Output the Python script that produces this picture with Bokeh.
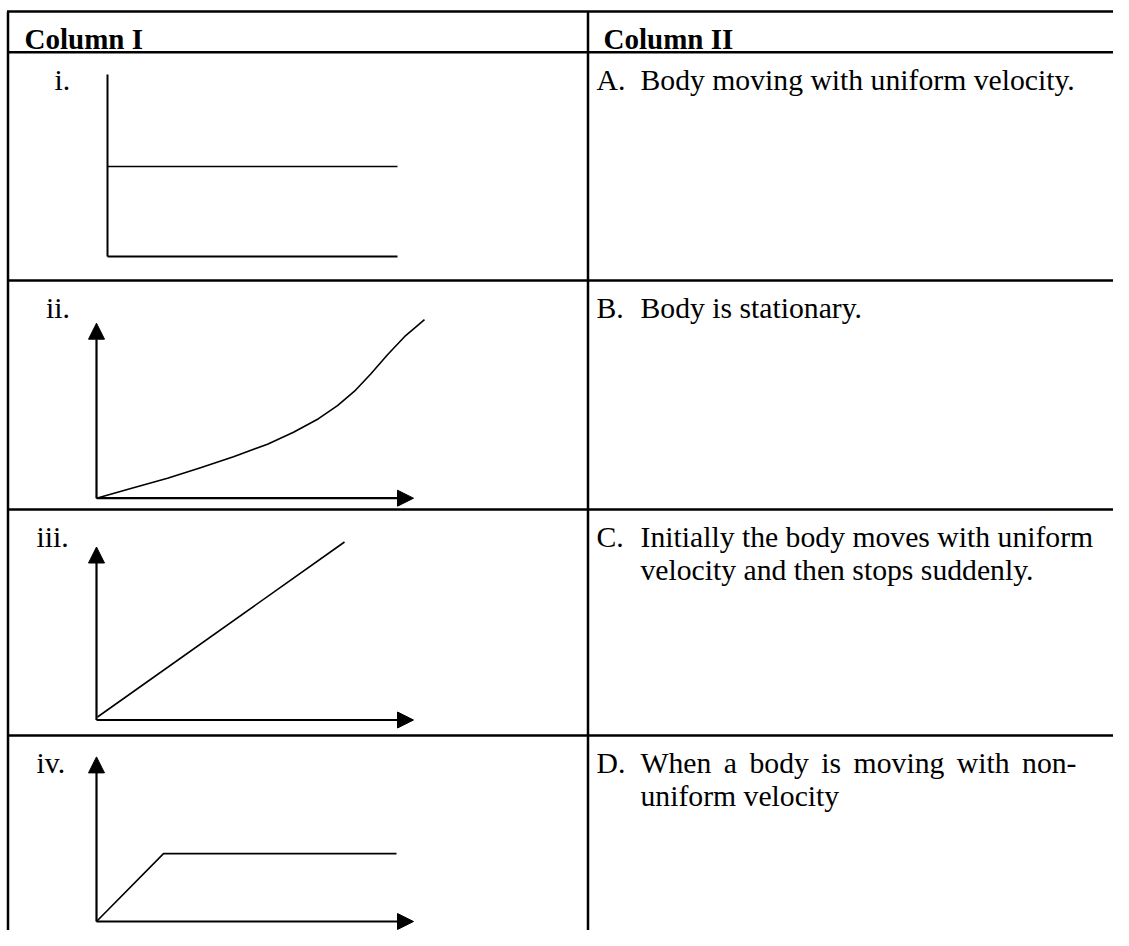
from bokeh.plotting import figure
from bokeh.models import Range1d, Arrow, NormalHead
from bokeh.core.properties import value
from bokeh.embed import file_html
from bokeh.resources import INLINE

# ---------------- content ----------------
headers = ["Column I", "Column II"]
row_labels = ["i.", "ii.", "iii.", "iv."]
match_letters = ["A.", "B.", "C.", "D."]
match_lines = [
    ["Body moving with uniform velocity."],
    ["Body is stationary."],
    ["Initially the body moves with uniform", "velocity and then stops suddenly."],
    ["When a body is moving with non-", "uniform velocity"],
]
justified = [[False], [False], [True, False], [True, False]]

# ---------------- graph data (local units: right = time, up = quantity) ----------------
# graph i : two horizontal lines
g1_flat_t = [0, 290]
g1_flat_y = [90, 90]
g1_base_t = [0, 290]
g1_base_y = [0, 0]
g1_vert_t = [0, 0]
g1_vert_y = [0, 182]
# graph ii : curve bending upward
g2_t = [0, 37, 71, 104, 137, 171, 197, 222, 241, 258, 274, 291, 308, 328]
g2_y = [0, 10.4, 20, 30.4, 41.5, 54, 66, 79.5, 92.5, 107, 124, 143.5, 161.5, 178.5]
# graph iii : straight line
g3_t = [1, 248]
g3_y = [3, 178]
# graph iv : rise then flat
g4_t = [0, 67, 300]
g4_y = [0, 73, 73]
# arrowed axes lengths (x, y) for graphs ii-iv
axis_len_x = [317, 317, 317]
axis_len_y = [175, 173, 177]

# ---------------- layout ----------------
W, H = 1113, 930
FONT = "Liberation Serif"
FS = 29.7
FS_HEAD = 29
row_tops = [51.7, 280, 509, 735]
row_bottom_end = 946
left_x = 7.5
div_x = 587.5
right_x = 1130
top_y = 11
label_x = [54, 45.5, 36, 36]
letter_x = 596
text_x = 640
text_right = 1076
line_gap = 32.5
base_off = 27.6
# panel origins and vertical squeeze (last panel squeezed to stay inside the canvas)
origins = [(107, 256), (96, 497.7), (96, 719.5), (96, 921)]
yscale = [1.0, 1.0, 1.0, 0.93]

p = figure(width=W, height=H, x_range=Range1d(0, W), y_range=Range1d(H, 0),
           output_backend="svg", toolbar_location=None, min_border=0,
           x_axis_location=None, y_axis_location=None)
p.grid.visible = False
p.outline_line_color = None
p.background_fill_color = "white"
p.border_fill_color = "white"

# table rules
hy = [top_y] + row_tops
p.segment(x0=[left_x - 1] * len(hy), y0=hy, x1=[right_x] * len(hy), y1=hy,
          line_color="black", line_width=2.5)
p.segment(x0=[left_x, div_x], y0=[top_y, top_y], x1=[left_x, div_x], y1=[row_bottom_end] * 2,
          line_color="black", line_width=2.5)

txt = dict(text_font=value(FONT), text_color="black",
           text_baseline="alphabetic", text_align="left")

# headers
p.text(x=[24, 603], y=[38.5, 38.5], text=headers, text_font_style="bold",
       text_font_size=f"{FS_HEAD}px", **txt)

# row labels + letters
bases = [t + base_off for t in row_tops]
p.text(x=label_x, y=bases, text=row_labels, text_font_size=f"{FS}px", **txt)
p.text(x=[letter_x] * 4, y=bases, text=match_letters, text_font_size=f"{FS}px", **txt)

# Times metrics (per 1000 em) for justification
adv = {' ': 250, '-': 333, '.': 250, 'a': 444, 'b': 500, 'c': 444, 'd': 500, 'e': 444,
       'f': 333, 'g': 500, 'h': 500, 'i': 278, 'l': 278, 'm': 778, 'n': 500, 'o': 500,
       'p': 500, 'r': 333, 's': 389, 't': 278, 'u': 500, 'v': 500, 'w': 722, 'y': 500,
       'I': 333, 'W': 944, 'B': 667}


def width(s):
    return sum(adv.get(c, 500) for c in s) * FS / 1000.0


min_gap = 0.25 * FS
wx, wy, wt = [], [], []
for r, lines in enumerate(match_lines):
    for k, line in enumerate(lines):
        y = bases[r] + k * line_gap
        words = line.split(" ")
        total = sum(width(w) for w in words)
        gap = (text_right - text_x - total) / (len(words) - 1) if len(words) > 1 else 0
        if justified[r][k] and gap > min_gap:
            x = text_x
            for w in words:
                wx.append(x); wy.append(y); wt.append(w)
                x += width(w) + gap
        else:
            wx.append(text_x); wy.append(y); wt.append(line)
p.text(x=wx, y=wy, text=wt, text_font_size=f"{FS}px", **txt)


def place(i, ts, ys):
    o = origins[i]
    return [o[0] + t for t in ts], [o[1] - v * yscale[i] for v in ys]


# graph i
for ts, ys in [(g1_vert_t, g1_vert_y), (g1_base_t, g1_base_y)]:
    xx, yy = place(0, ts, ys)
    p.line(xx, yy, line_color="black", line_width=2)
xx, yy = place(0, g1_flat_t, g1_flat_y)
p.line(xx, yy, line_color="black", line_width=1.7)

# arrowed axes for graphs ii-iv
for i in range(3):
    ox, oy = origins[i + 1]
    for (xe, ye) in [(ox + axis_len_x[i], oy), (ox, oy - axis_len_y[i] * yscale[i + 1])]:
        p.add_layout(Arrow(end=NormalHead(size=16, fill_color="black", line_color="black", line_width=1),
                           x_start=ox, y_start=oy, x_end=xe, y_end=ye,
                           line_color="black", line_width=2.2))

for i, ts, ys in [(1, g2_t, g2_y), (2, g3_t, g3_y), (3, g4_t, g4_y)]:
    xx, yy = place(i, ts, ys)
    p.line(xx, yy, line_color="black", line_width=1.6, line_join="round")

open("out.html", "w").write(file_html(p, INLINE))
